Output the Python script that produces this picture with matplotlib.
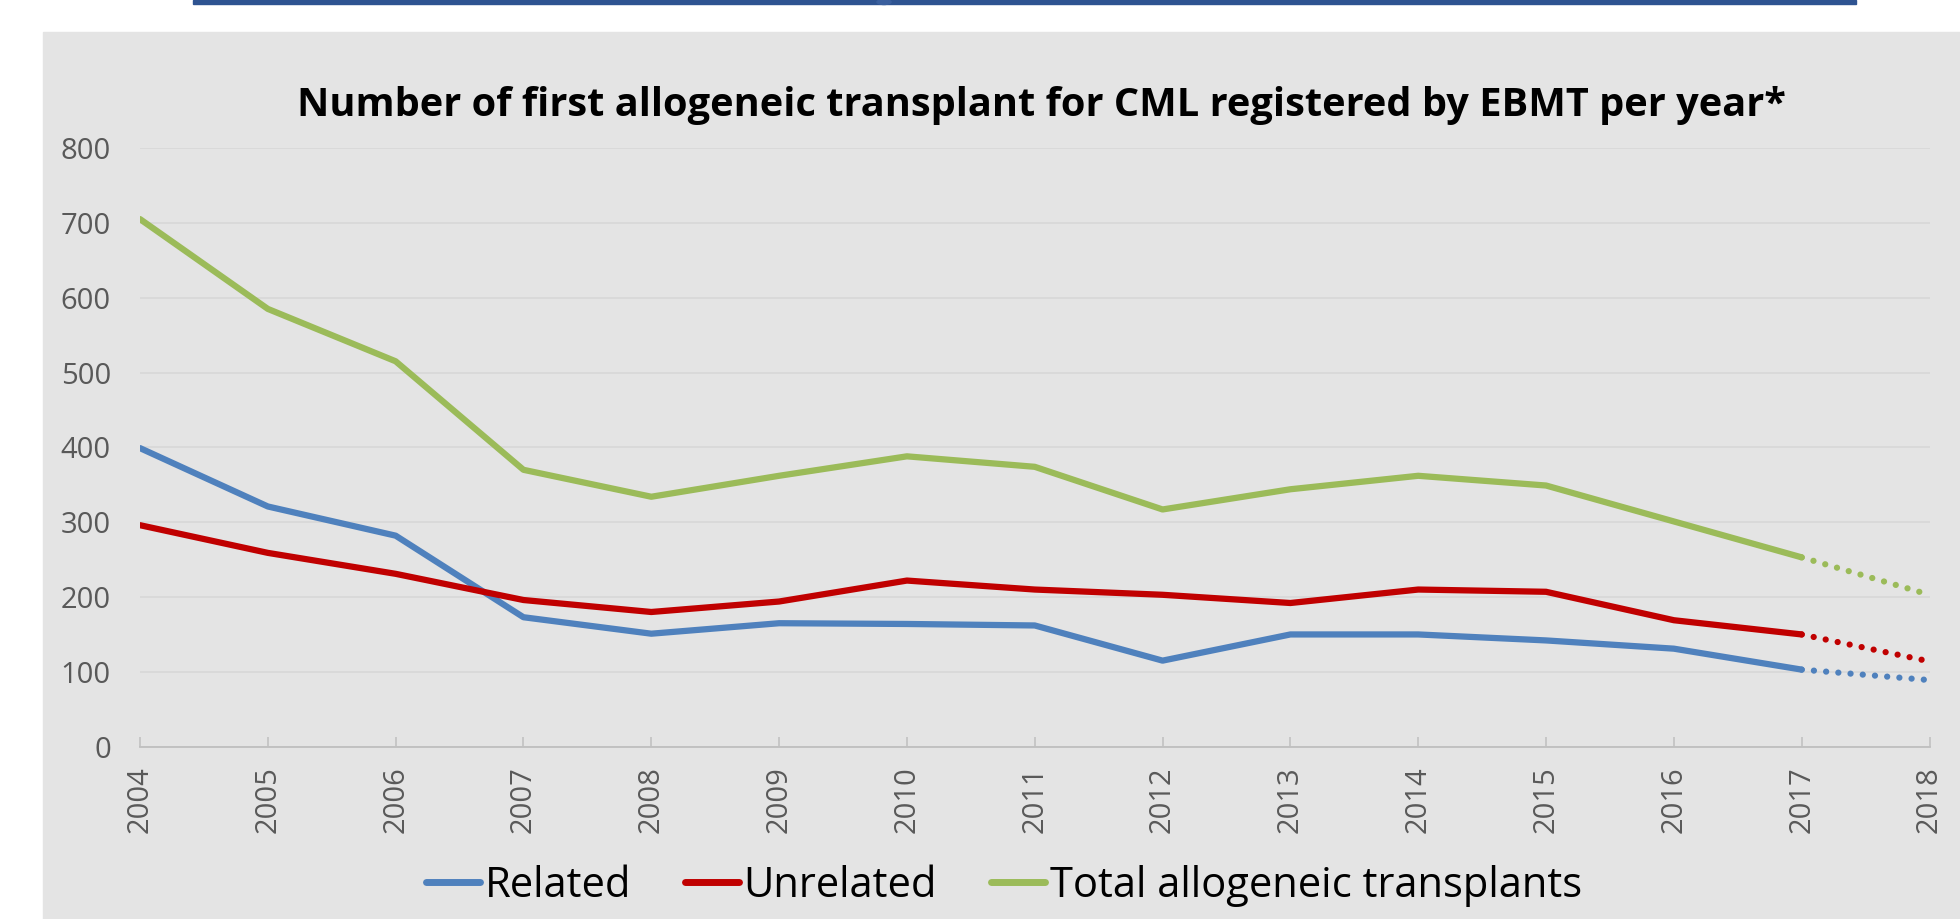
import matplotlib.pyplot as plt
import matplotlib.patches as mpatches

years = [2004, 2005, 2006, 2007, 2008, 2009, 2010, 2011, 2012, 2013, 2014, 2015, 2016, 2017, 2018]
related = [399, 321, 282, 173, 151, 165, 164, 162, 115, 150, 150, 142, 131, 103, 89]
unrelated = [296, 259, 231, 196, 180, 194, 222, 210, 203, 192, 210, 207, 169, 150, 114]
total = [705, 585, 515, 370, 334, 362, 388, 374, 317, 344, 362, 349, 301, 253, 203]

series_names = ["Related", "Unrelated", "Total allogeneic transplants"]
series_colors = ["#4F81BD", "#C00000", "#9BBB59"]
title = "Number of first allogeneic transplant for CML registered by EBMT per year*"

W, H = 1960, 919
fig = plt.figure(figsize=(W / 100, H / 100), dpi=100)
fig.patch.set_facecolor("white")

# grey panel + blue bar at the very top
fig.patches.append(mpatches.Rectangle((43 / W, 0), 1 - 43 / W, 1 - 32 / H,
                                      transform=fig.transFigure, color="#E4E4E4", zorder=-5))
fig.patches.append(mpatches.Rectangle((193 / W, 1 - 3.5 / H), (1856 - 193) / W, 3.5 / H,
                                      transform=fig.transFigure, color="#2E5391", zorder=-4))
fig.patches.append(mpatches.Ellipse((884 / W, 1 - 2 / H), 14 / W, 5 / H,
                                    transform=fig.transFigure, color="#3A5F9E", zorder=-4))

ax = fig.add_axes([140 / W, 1 - 746.7 / H, (1929.5 - 140) / W, (746.7 - 148) / H])
ax.set_facecolor("none")

lw = 4.5
for vals, name, col in zip([related, unrelated, total], series_names, series_colors):
    ax.plot(years[:-1], vals[:-1], color=col, lw=lw, label=name,
            solid_capstyle="round", solid_joinstyle="round", zorder=3)
    ax.plot(years[-2:], vals[-2:], color=col, lw=lw, linestyle=(0, (0.01, 1.95)),
            dash_capstyle="round", zorder=3)

ax.set_xlim(2004, 2018)
ax.set_ylim(0, 800)
ax.set_yticks(range(0, 801, 100))
ax.set_xticks(years)
ax.set_xticklabels([str(y) for y in years], rotation=90)
ax.grid(axis="y", color="#D6D6D6", lw=1.1, zorder=1)
ax.set_axisbelow(True)

for s in ["top", "right", "left"]:
    ax.spines[s].set_visible(False)
ax.spines["bottom"].set_color("#BFBFBF")
ax.spines["bottom"].set_linewidth(1.3)

tick_font = ["Open Sans", "DejaVu Sans"]
ax.tick_params(axis="x", direction="in", length=7, width=1.1, color="#BFBFBF",
               pad=14, labelsize=21, labelcolor="#595959")
ax.tick_params(axis="y", length=0, pad=21, labelsize=21, labelcolor="#595959")
for lab in ax.get_xticklabels() + ax.get_yticklabels():
    lab.set_family(tick_font)

fig.text(1041 / W, 1 - 116 / H, title, ha="center", va="baseline",
         fontsize=28.6, fontweight="bold", family="Open Sans")

leg = fig.legend(loc="center", bbox_to_anchor=(1004 / W, 1 - 886 / H), ncol=3, frameon=False,
                 prop={"family": "Open Sans", "size": 30},
                 handlelength=1.3, handletextpad=0.1, columnspacing=1.3)
for h in leg.get_lines():
    h.set_linewidth(5)

fig.savefig("out.png", dpi=100)
